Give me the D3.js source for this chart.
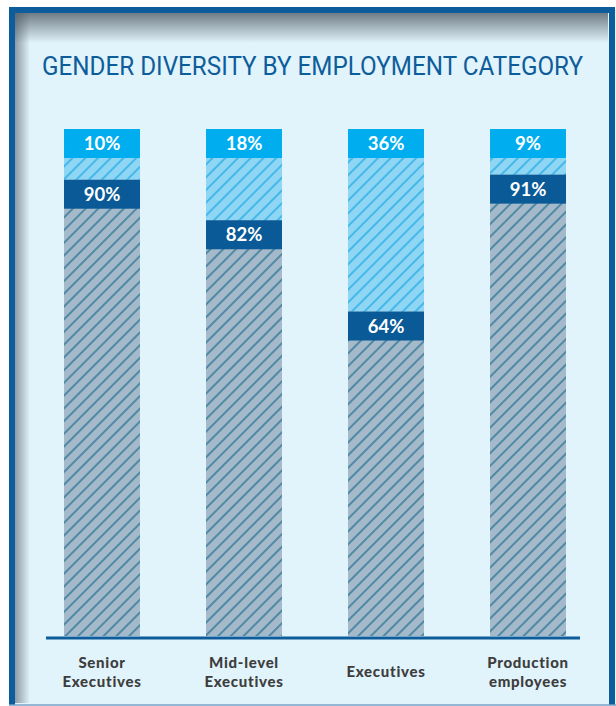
<!DOCTYPE html>
<html>
<head>
<meta charset="utf-8">
<script src="https://cdn.jsdelivr.net/npm/d3@7"></script>
<style>
  body { margin: 0; background: #fff; }
  svg { display: block; }
</style>
</head>
<body>
<div id="chart"></div>
<script>
const categories = [["Senior", "Executives"], ["Mid-level", "Executives"], ["Executives"], ["Production", "employees"]]
const female = [10, 18, 36, 9]
const male = [90, 82, 64, 91]

const W = 616, H = 706

const svg = d3.select("#chart").append("svg")
    .attr("width", W)
    .attr("height", H)

const defs = svg.append("defs")

// hatch patterns
function hatch(id, fill, stroke) {
    const p = defs.append("pattern")
        .attr("id", id)
        .attr("patternUnits", "userSpaceOnUse")
        .attr("width", 9)
        .attr("height", 9)
        .attr("patternTransform", "rotate(45)")
    p.append("rect").attr("width", 9).attr("height", 9).attr("fill", fill)
    p.append("line")
        .attr("x1", 1).attr("y1", 0).attr("x2", 1).attr("y2", 9)
        .attr("stroke", stroke).attr("stroke-width", 1.3)
}
hatch("hatchMale", "#a4b9c9", "#226f90")
hatch("hatchFemale", "#8fd6f4", "#1aa8e3")

// inner shadow gradients
const gTop = defs.append("linearGradient").attr("id", "shTop")
    .attr("x1", 0).attr("y1", 0).attr("x2", 0).attr("y2", 1)
gTop.append("stop").attr("offset", 0).attr("stop-color", "#4a5560").attr("stop-opacity", 0.75)
gTop.append("stop").attr("offset", 1).attr("stop-color", "#4a5560").attr("stop-opacity", 0)
const gLeft = defs.append("linearGradient").attr("id", "shLeft")
    .attr("x1", 0).attr("y1", 0).attr("x2", 1).attr("y2", 0)
gLeft.append("stop").attr("offset", 0).attr("stop-color", "#4a5560").attr("stop-opacity", 0.6)
gLeft.append("stop").attr("offset", 1).attr("stop-color", "#4a5560").attr("stop-opacity", 0)

// panel
svg.append("rect")
    .attr("x", 12).attr("y", 10).attr("width", 620).attr("height", 694)
    .attr("fill", "#e1f3fb")
svg.append("rect")
    .attr("x", 14).attr("y", 13).attr("width", 594).attr("height", 30)
    .attr("fill", "url(#shTop)")
svg.append("rect")
    .attr("x", 14).attr("y", 13).attr("width", 16).attr("height", 690)
    .attr("fill", "url(#shLeft)")
svg.append("path")
    .attr("d", "M12,705 L12,10 L612,10 L612,705")
    .attr("fill", "none")
    .attr("stroke", "#0d5c9c")
    .attr("stroke-width", 6)
svg.append("line")
    .attr("x1", 9).attr("x2", 616).attr("y1", 705).attr("y2", 705)
    .attr("stroke", "#6f9fc6").attr("stroke-width", 1.5)

// title
svg.append("text")
    .attr("x", 42)
    .attr("y", 75)
    .attr("textLength", 541)
    .attr("lengthAdjust", "spacingAndGlyphs")
    .attr("font-family", "Liberation Sans Narrow, Roboto, sans-serif")
    .attr("font-size", 25)
    .attr("fill", "#0e5d9b")
    .text("GENDER DIVERSITY BY EMPLOYMENT CATEGORY")

// scales
const idx = d3.range(categories.length)
const x = d3.scaleBand()
    .domain(idx)
    .range([31, 599])
    .paddingInner(0.465)
    .paddingOuter(0.2325)

const y = d3.scaleLinear()
    .domain([0, 100])
    .range([636, 129])

const BOX = 29

const bars = svg.selectAll(".bar")
    .data(idx)
    .enter().append("g")
    .attr("class", "bar")

// male (bottom) segment
bars.append("rect")
    .attr("x", i => x(i))
    .attr("y", i => y(male[i]))
    .attr("width", x.bandwidth())
    .attr("height", i => y(0) - y(male[i]))
    .attr("fill", "url(#hatchMale)")

// female (top) segment
bars.append("rect")
    .attr("x", i => x(i))
    .attr("y", y(100))
    .attr("width", x.bandwidth())
    .attr("height", i => y(male[i]) - y(100))
    .attr("fill", "url(#hatchFemale)")

// label boxes
bars.append("rect")
    .attr("x", i => x(i))
    .attr("y", y(100))
    .attr("width", x.bandwidth())
    .attr("height", BOX)
    .attr("fill", "#00aeef")

bars.append("rect")
    .attr("x", i => x(i))
    .attr("y", i => y(male[i]))
    .attr("width", x.bandwidth())
    .attr("height", BOX)
    .attr("fill", "#0a5a97")

const labelFont = "Lato, 'Open Sans', sans-serif"

bars.append("text")
    .attr("x", i => x(i) + x.bandwidth() / 2)
    .attr("y", y(100) + BOX / 2 + 6.5)
    .attr("text-anchor", "middle")
    .attr("font-family", labelFont)
    .attr("font-weight", "bold")
    .attr("font-size", 18.5)
    .attr("fill", "#fff")
    .text(i => female[i] + "%")

bars.append("text")
    .attr("x", i => x(i) + x.bandwidth() / 2)
    .attr("y", i => y(male[i]) + BOX / 2 + 6.5)
    .attr("text-anchor", "middle")
    .attr("font-family", labelFont)
    .attr("font-weight", "bold")
    .attr("font-size", 18.5)
    .attr("fill", "#fff")
    .text(i => male[i] + "%")

// baseline
svg.append("line")
    .attr("x1", 46).attr("x2", 580)
    .attr("y1", y(0) + 2).attr("y2", y(0) + 2)
    .attr("stroke", "#0d5c9c")
    .attr("stroke-width", 3)

// category labels
const catText = svg.selectAll(".cat")
    .data(idx)
    .enter().append("text")
    .attr("class", "cat")
    .attr("text-anchor", "middle")
    .attr("font-family", labelFont)
    .attr("font-weight", 900)
    .attr("font-size", 15)
    .attr("letter-spacing", 0.7)
    .attr("fill", "#3d3d3d")
    .attr("transform", i => "translate(" + (x(i) + x.bandwidth() / 2) + ",0)")

catText.selectAll("tspan")
    .data(i => categories[i].map(t => ({ t, n: categories[i].length })))
    .enter().append("tspan")
    .attr("x", 0)
    .attr("y", (d, j) => d.n === 1 ? 677 : 668 + j * 19)
    .text(d => d.t)
</script>
</body>
</html>
